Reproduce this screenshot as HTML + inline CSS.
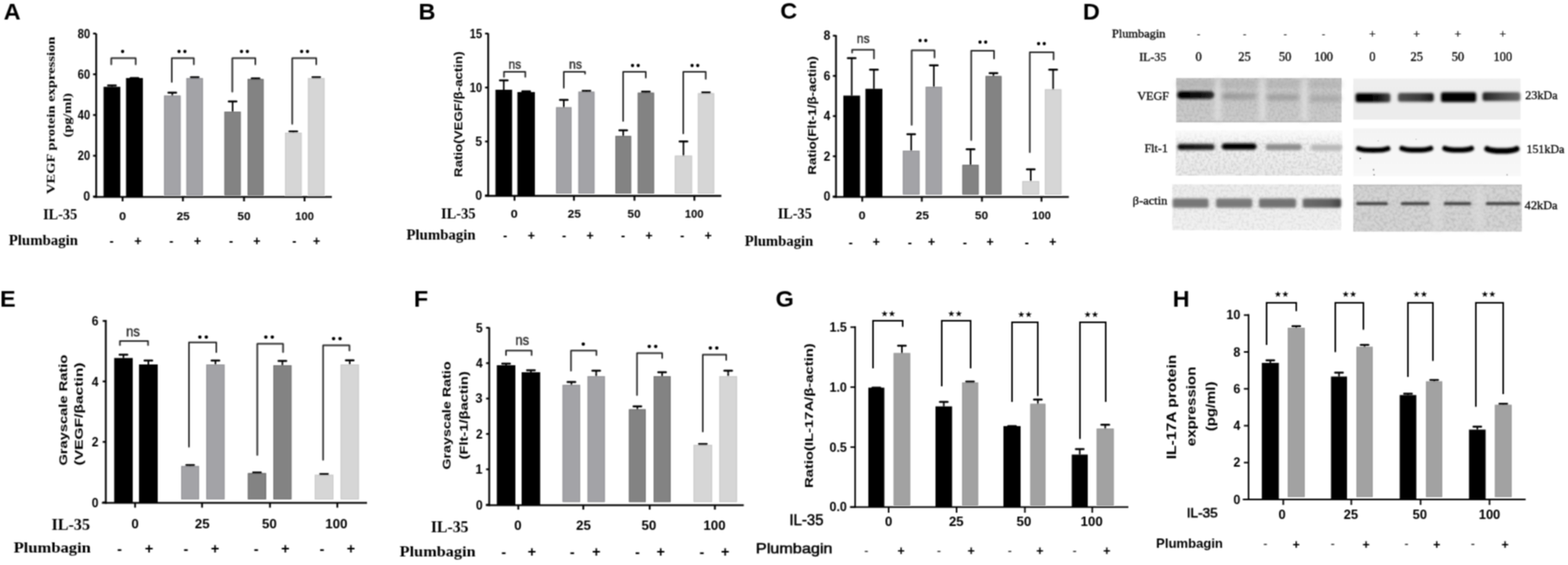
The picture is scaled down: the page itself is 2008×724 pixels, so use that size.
<!DOCTYPE html>
<html><head><meta charset="utf-8"><title>Figure</title>
<style>
html,body{margin:0;padding:0;background:#fff;}
body{width:2008px;height:724px;overflow:hidden;}
svg{display:block;}
</style></head>
<body>
<svg width="2008" height="724" viewBox="0 0 2008 724">
<defs>
<filter id="gb" x="0" y="0" width="2008" height="724" filterUnits="userSpaceOnUse"><feConvolveMatrix order="3" kernelMatrix="1 2 1 2 4 2 1 2 1" divisor="16" edgeMode="duplicate"/></filter>
<filter id="bl2" x="-20%" y="-80%" width="140%" height="260%"><feGaussianBlur stdDeviation="1.8 1.7"/></filter>
<filter id="bl1" x="-20%" y="-80%" width="140%" height="260%"><feGaussianBlur stdDeviation="1.1"/></filter>
<filter id="bl3" x="-50%" y="-50%" width="200%" height="200%"><feGaussianBlur stdDeviation="3"/></filter>
<filter id="blS" x="1700" y="150" width="300" height="100" filterUnits="userSpaceOnUse"><feGaussianBlur stdDeviation="1.1"/></filter>
<filter id="bl3s" x="-20%" y="-100%" width="140%" height="300%"><feGaussianBlur stdDeviation="2.4 2.2"/></filter>
<filter id="noise1" x="0" y="0" width="100%" height="100%">
  <feTurbulence type="fractalNoise" baseFrequency="0.3" numOctaves="2" seed="3" result="t"/>
  <feColorMatrix in="t" type="matrix" values="0 0 0 0 0  0 0 0 0 0  0 0 0 0 0  3 0 0 0 -1.2" result="n"/>
  <feComposite in="n" in2="SourceGraphic" operator="in"/>
</filter>
<filter id="noise2" x="0" y="0" width="100%" height="100%">
  <feTurbulence type="fractalNoise" baseFrequency="0.25" numOctaves="2" seed="7" result="t"/>
  <feColorMatrix in="t" type="matrix" values="0 0 0 0 0  0 0 0 0 0  0 0 0 0 0  3 0 0 0 -1.2" result="n"/>
  <feComposite in="n" in2="SourceGraphic" operator="in"/>
</filter>
<linearGradient id="vegfL" x1="0" y1="0" x2="0" y2="1">
  <stop offset="0" stop-color="#c2c2c2"/><stop offset="0.3" stop-color="#c6c6c6"/><stop offset="1" stop-color="#cbcbcb"/>
</linearGradient>
<linearGradient id="vegfR" x1="0" y1="0" x2="0" y2="1">
  <stop offset="0" stop-color="#efefef"/><stop offset="0.5" stop-color="#ebebeb"/><stop offset="1" stop-color="#ececec"/>
</linearGradient>
<linearGradient id="fltL" x1="0" y1="0" x2="0" y2="1">
  <stop offset="0" stop-color="#f8f8f8"/><stop offset="0.3" stop-color="#f0f0f0"/><stop offset="1" stop-color="#e9e9e9"/>
</linearGradient>
<linearGradient id="fltR" x1="0" y1="0" x2="0" y2="1">
  <stop offset="0" stop-color="#f3f3f3"/><stop offset="1" stop-color="#f8f8f8"/>
</linearGradient>
<linearGradient id="fadeW" x1="0" y1="0" x2="0" y2="1">
  <stop offset="0" stop-color="#fafafa" stop-opacity="0.95"/><stop offset="1" stop-color="#fafafa" stop-opacity="0"/>
</linearGradient>
<linearGradient id="actL" x1="0" y1="0" x2="0" y2="1">
  <stop offset="0" stop-color="#ececec"/><stop offset="1" stop-color="#f1f1f1"/>
</linearGradient>
<linearGradient id="g0" x1="0" y1="0" x2="1" y2="0"><stop offset="0" stop-color="#000"/><stop offset="0.55" stop-color="#0a0a0a"/><stop offset="1" stop-color="#2a2a2a"/></linearGradient>
<linearGradient id="g1" x1="0" y1="0" x2="1" y2="0"><stop offset="0" stop-color="#8a8a8a"/><stop offset="1" stop-color="#9a9a9a"/></linearGradient>
<linearGradient id="g2" x1="0" y1="0" x2="1" y2="0"><stop offset="0" stop-color="#000"/><stop offset="0.6" stop-color="#080808"/><stop offset="1" stop-color="#4a4a4a"/></linearGradient>
<linearGradient id="g3" x1="0" y1="0" x2="1" y2="0"><stop offset="0" stop-color="#505050"/><stop offset="0.6" stop-color="#3a3a3a"/><stop offset="1" stop-color="#161616"/></linearGradient>
<linearGradient id="g4" x1="0" y1="0" x2="1" y2="0"><stop offset="0" stop-color="#222"/><stop offset="0.5" stop-color="#4a4a4a"/><stop offset="1" stop-color="#6a6a6a"/></linearGradient>
<linearGradient id="g5" x1="0" y1="0" x2="1" y2="0"><stop offset="0" stop-color="#0c0c0c"/><stop offset="1" stop-color="#2a2a2a"/></linearGradient>
<linearGradient id="g6" x1="0" y1="0" x2="1" y2="0"><stop offset="0" stop-color="#6a6a6a"/><stop offset="0.7" stop-color="#606060"/><stop offset="1" stop-color="#404040"/></linearGradient></defs>
<rect width="2008" height="724" fill="#fff"/>
<g filter="url(#gb)">
<rect x="132.6" y="111.25" width="21.5" height="141.05" fill="#000"/>
<rect x="161.4" y="100" width="21.6" height="152.3" fill="#000"/>
<rect x="210" y="122.5" width="21.25" height="127.8" fill="#a3a3a7"/>
<rect x="210.5" y="123" width="20.25" height="126.8" fill="none" stroke="#919195" stroke-width="1"/>
<rect x="238.75" y="100" width="21.25" height="150.3" fill="#a3a3a7"/>
<rect x="239.25" y="100.5" width="20.25" height="149.3" fill="none" stroke="#919195" stroke-width="1"/>
<rect x="287.5" y="143" width="20.75" height="107.3" fill="#838383"/>
<rect x="288" y="143.5" width="19.75" height="106.3" fill="none" stroke="#6e6e6e" stroke-width="1"/>
<rect x="317" y="101.25" width="20.5" height="149.05" fill="#838383"/>
<rect x="317.5" y="101.75" width="19.5" height="148.05" fill="none" stroke="#6e6e6e" stroke-width="1"/>
<rect x="365" y="170" width="21.25" height="80.3" fill="#d6d6d6"/>
<rect x="365.5" y="170.5" width="20.25" height="79.3" fill="none" stroke="#c6c6c6" stroke-width="1"/>
<rect x="394.5" y="100" width="21" height="150.3" fill="#d6d6d6"/>
<rect x="395" y="100.5" width="20" height="149.3" fill="none" stroke="#c6c6c6" stroke-width="1"/>
<line x1="143.35" y1="111.25" x2="143.35" y2="109.5" stroke="#000" stroke-width="2" stroke-linecap="butt"/>
<line x1="138.35" y1="109.5" x2="148.35" y2="109.5" stroke="#000" stroke-width="2.4" stroke-linecap="round"/>
<line x1="167.2" y1="100" x2="177.2" y2="100" stroke="#000" stroke-width="2.4" stroke-linecap="round"/>
<line x1="220.62" y1="122.5" x2="220.62" y2="118.75" stroke="#000" stroke-width="2" stroke-linecap="butt"/>
<line x1="215.62" y1="118.75" x2="225.62" y2="118.75" stroke="#000" stroke-width="2.4" stroke-linecap="round"/>
<line x1="249.38" y1="100" x2="249.38" y2="99" stroke="#000" stroke-width="2" stroke-linecap="butt"/>
<line x1="244.38" y1="99" x2="254.38" y2="99" stroke="#000" stroke-width="2.4" stroke-linecap="round"/>
<line x1="297.88" y1="143" x2="297.88" y2="130" stroke="#000" stroke-width="2" stroke-linecap="butt"/>
<line x1="292.88" y1="130" x2="302.88" y2="130" stroke="#000" stroke-width="2.4" stroke-linecap="round"/>
<line x1="327.25" y1="101.25" x2="327.25" y2="100.5" stroke="#000" stroke-width="2" stroke-linecap="butt"/>
<line x1="322.25" y1="100.5" x2="332.25" y2="100.5" stroke="#000" stroke-width="2.4" stroke-linecap="round"/>
<line x1="375.62" y1="170" x2="375.62" y2="168.5" stroke="#000" stroke-width="2" stroke-linecap="butt"/>
<line x1="370.62" y1="168.5" x2="380.62" y2="168.5" stroke="#000" stroke-width="2.4" stroke-linecap="round"/>
<line x1="405" y1="100" x2="405" y2="99" stroke="#000" stroke-width="2" stroke-linecap="butt"/>
<line x1="400" y1="99" x2="410" y2="99" stroke="#000" stroke-width="2.4" stroke-linecap="round"/>
<line x1="123.2" y1="43" x2="123.2" y2="253.45" stroke="#000" stroke-width="2.3" stroke-linecap="butt"/>
<line x1="119.5" y1="252.3" x2="425" y2="252.3" stroke="#000" stroke-width="2.3" stroke-linecap="butt"/>
<line x1="119.2" y1="251.75" x2="123.2" y2="251.75" stroke="#000" stroke-width="2.3" stroke-linecap="butt"/>
<text x="115.3" y="257.35" font-family="'Liberation Sans', Arial, sans-serif" font-size="16" font-weight="bold" text-anchor="end" fill="#000" textLength="8.6" lengthAdjust="spacingAndGlyphs">0</text>
<line x1="119.2" y1="199.56" x2="123.2" y2="199.56" stroke="#000" stroke-width="2.3" stroke-linecap="butt"/>
<text x="115.3" y="205.16" font-family="'Liberation Sans', Arial, sans-serif" font-size="16" font-weight="bold" text-anchor="end" fill="#000" textLength="15.8" lengthAdjust="spacingAndGlyphs">20</text>
<line x1="119.2" y1="147.38" x2="123.2" y2="147.38" stroke="#000" stroke-width="2.3" stroke-linecap="butt"/>
<text x="115.3" y="152.97" font-family="'Liberation Sans', Arial, sans-serif" font-size="16" font-weight="bold" text-anchor="end" fill="#000" textLength="15.8" lengthAdjust="spacingAndGlyphs">40</text>
<line x1="119.2" y1="95.19" x2="123.2" y2="95.19" stroke="#000" stroke-width="2.3" stroke-linecap="butt"/>
<text x="115.3" y="100.79" font-family="'Liberation Sans', Arial, sans-serif" font-size="16" font-weight="bold" text-anchor="end" fill="#000" textLength="15.8" lengthAdjust="spacingAndGlyphs">60</text>
<line x1="119.2" y1="43" x2="123.2" y2="43" stroke="#000" stroke-width="2.3" stroke-linecap="butt"/>
<text x="115.3" y="48.6" font-family="'Liberation Sans', Arial, sans-serif" font-size="16" font-weight="bold" text-anchor="end" fill="#000" textLength="15.8" lengthAdjust="spacingAndGlyphs">80</text>
<line x1="157" y1="252.3" x2="157" y2="258" stroke="#000" stroke-width="2.3" stroke-linecap="butt"/>
<line x1="234.25" y1="252.3" x2="234.25" y2="258" stroke="#000" stroke-width="2.3" stroke-linecap="butt"/>
<line x1="312.5" y1="252.3" x2="312.5" y2="258" stroke="#000" stroke-width="2.3" stroke-linecap="butt"/>
<line x1="390" y1="252.3" x2="390" y2="258" stroke="#000" stroke-width="2.3" stroke-linecap="butt"/>
<path d="M142.5 82.5 V74.5 H173.75 V82.5" fill="none" stroke="#262626" stroke-width="2" stroke-linejoin="round" stroke-linecap="round"/>
<text x="157" y="70.78" font-family="'Liberation Sans', Arial, sans-serif" font-size="14.5" font-weight="bold" text-anchor="middle" fill="#000">•</text>
<path d="M220 105 V74.5 H248.25 V82.5" fill="none" stroke="#262626" stroke-width="2" stroke-linejoin="round" stroke-linecap="round"/>
<text x="229.2" y="70.78" font-family="'Liberation Sans', Arial, sans-serif" font-size="14.5" font-weight="bold" text-anchor="middle" fill="#000">•</text>
<text x="236.8" y="70.78" font-family="'Liberation Sans', Arial, sans-serif" font-size="14.5" font-weight="bold" text-anchor="middle" fill="#000">•</text>
<path d="M297.5 117.5 V74.5 H327 V82.5" fill="none" stroke="#262626" stroke-width="2" stroke-linejoin="round" stroke-linecap="round"/>
<text x="309.2" y="70.78" font-family="'Liberation Sans', Arial, sans-serif" font-size="14.5" font-weight="bold" text-anchor="middle" fill="#000">•</text>
<text x="316.8" y="70.78" font-family="'Liberation Sans', Arial, sans-serif" font-size="14.5" font-weight="bold" text-anchor="middle" fill="#000">•</text>
<path d="M374.25 158.75 V74.5 H405 V82.5" fill="none" stroke="#262626" stroke-width="2" stroke-linejoin="round" stroke-linecap="round"/>
<text x="386.2" y="70.78" font-family="'Liberation Sans', Arial, sans-serif" font-size="14.5" font-weight="bold" text-anchor="middle" fill="#000">•</text>
<text x="393.8" y="70.78" font-family="'Liberation Sans', Arial, sans-serif" font-size="14.5" font-weight="bold" text-anchor="middle" fill="#000">•</text>
<text x="157" y="281.8" font-family="'Liberation Sans', Arial, sans-serif" font-size="15.5" font-weight="bold" text-anchor="middle" fill="#000" textLength="9" lengthAdjust="spacingAndGlyphs">0</text>
<text x="234.6" y="281.8" font-family="'Liberation Sans', Arial, sans-serif" font-size="15.5" font-weight="bold" text-anchor="middle" fill="#000" textLength="16.8" lengthAdjust="spacingAndGlyphs">25</text>
<text x="312.5" y="281.8" font-family="'Liberation Sans', Arial, sans-serif" font-size="15.5" font-weight="bold" text-anchor="middle" fill="#000" textLength="16.8" lengthAdjust="spacingAndGlyphs">50</text>
<text x="390" y="281.8" font-family="'Liberation Sans', Arial, sans-serif" font-size="15.5" font-weight="bold" text-anchor="middle" fill="#000" textLength="24" lengthAdjust="spacingAndGlyphs">100</text>
<text x="55.2" y="281.2" font-family="'Liberation Serif', 'Times New Roman', serif" font-size="19" font-weight="bold" text-anchor="start" fill="#000" textLength="43.6" lengthAdjust="spacingAndGlyphs">IL-35</text>
<text x="11.25" y="313.8" font-family="'Liberation Serif', 'Times New Roman', serif" font-size="18.5" font-weight="bold" text-anchor="start" fill="#000" textLength="88.6" lengthAdjust="spacingAndGlyphs">Plumbagin</text>
<text x="143" y="314.2" font-family="'Liberation Sans', Arial, sans-serif" font-size="16" font-weight="bold" text-anchor="middle" fill="#000">-</text>
<text x="176.75" y="313.5" font-family="'Liberation Sans', Arial, sans-serif" font-size="16" font-weight="bold" text-anchor="middle" fill="#000">+</text>
<text x="219.5" y="314.2" font-family="'Liberation Sans', Arial, sans-serif" font-size="16" font-weight="bold" text-anchor="middle" fill="#000">-</text>
<text x="253" y="313.5" font-family="'Liberation Sans', Arial, sans-serif" font-size="16" font-weight="bold" text-anchor="middle" fill="#000">+</text>
<text x="296" y="314.2" font-family="'Liberation Sans', Arial, sans-serif" font-size="16" font-weight="bold" text-anchor="middle" fill="#000">-</text>
<text x="329" y="313.5" font-family="'Liberation Sans', Arial, sans-serif" font-size="16" font-weight="bold" text-anchor="middle" fill="#000">+</text>
<text x="377" y="314.2" font-family="'Liberation Sans', Arial, sans-serif" font-size="16" font-weight="bold" text-anchor="middle" fill="#000">-</text>
<text x="405.5" y="313.5" font-family="'Liberation Sans', Arial, sans-serif" font-size="16" font-weight="bold" text-anchor="middle" fill="#000">+</text>
<text transform="translate(69.8 147.8) rotate(-90)" x="0" y="0" font-family="'Liberation Serif', 'Times New Roman', serif" font-size="15.5" font-weight="bold" text-anchor="middle" textLength="202" lengthAdjust="spacingAndGlyphs">VEGF protein expression</text>
<text transform="translate(90.8 147.6) rotate(-90)" x="0" y="0" font-family="'Liberation Serif', 'Times New Roman', serif" font-size="15.5" font-weight="bold" text-anchor="middle" textLength="57" lengthAdjust="spacingAndGlyphs">(pg/ml)</text>
<text x="4.8" y="24.6" font-family="'Liberation Sans', Arial, sans-serif" font-size="30" font-weight="bold" text-anchor="start" fill="#000">A</text>
<rect x="634.5" y="115" width="21.3" height="136" fill="#000"/>
<rect x="662.6" y="118" width="22.4" height="133" fill="#000"/>
<rect x="712" y="137.5" width="20" height="110.5" fill="#a3a3a7"/>
<rect x="712.5" y="138" width="19" height="109.5" fill="none" stroke="#919195" stroke-width="1"/>
<rect x="740.75" y="117.5" width="20.5" height="130.5" fill="#a3a3a7"/>
<rect x="741.25" y="118" width="19.5" height="129.5" fill="none" stroke="#919195" stroke-width="1"/>
<rect x="788" y="174.25" width="20.25" height="73.75" fill="#838383"/>
<rect x="788.5" y="174.75" width="19.25" height="72.75" fill="none" stroke="#6e6e6e" stroke-width="1"/>
<rect x="816.75" y="118.75" width="20.75" height="129.25" fill="#838383"/>
<rect x="817.25" y="119.25" width="19.75" height="128.25" fill="none" stroke="#6e6e6e" stroke-width="1"/>
<rect x="864.25" y="199.5" width="22" height="48.5" fill="#d6d6d6"/>
<rect x="864.75" y="200" width="21" height="47.5" fill="none" stroke="#c6c6c6" stroke-width="1"/>
<rect x="893.75" y="119.5" width="20.75" height="128.5" fill="#d6d6d6"/>
<rect x="894.25" y="120" width="19.75" height="127.5" fill="none" stroke="#c6c6c6" stroke-width="1"/>
<line x1="645.15" y1="115" x2="645.15" y2="103" stroke="#000" stroke-width="2" stroke-linecap="butt"/>
<line x1="640.15" y1="103" x2="650.15" y2="103" stroke="#000" stroke-width="2.4" stroke-linecap="round"/>
<line x1="673.8" y1="118" x2="673.8" y2="117" stroke="#000" stroke-width="2" stroke-linecap="butt"/>
<line x1="668.8" y1="117" x2="678.8" y2="117" stroke="#000" stroke-width="2.4" stroke-linecap="round"/>
<line x1="722" y1="137.5" x2="722" y2="128" stroke="#000" stroke-width="2" stroke-linecap="butt"/>
<line x1="717" y1="128" x2="727" y2="128" stroke="#000" stroke-width="2.4" stroke-linecap="round"/>
<line x1="751" y1="117.5" x2="751" y2="116.5" stroke="#000" stroke-width="2" stroke-linecap="butt"/>
<line x1="746" y1="116.5" x2="756" y2="116.5" stroke="#000" stroke-width="2.4" stroke-linecap="round"/>
<line x1="798.12" y1="174.25" x2="798.12" y2="167" stroke="#000" stroke-width="2" stroke-linecap="butt"/>
<line x1="793.12" y1="167" x2="803.12" y2="167" stroke="#000" stroke-width="2.4" stroke-linecap="round"/>
<line x1="827.12" y1="118.75" x2="827.12" y2="117.5" stroke="#000" stroke-width="2" stroke-linecap="butt"/>
<line x1="822.12" y1="117.5" x2="832.12" y2="117.5" stroke="#000" stroke-width="2.4" stroke-linecap="round"/>
<line x1="875.25" y1="199.5" x2="875.25" y2="181.25" stroke="#000" stroke-width="2" stroke-linecap="butt"/>
<line x1="870.25" y1="181.25" x2="880.25" y2="181.25" stroke="#000" stroke-width="2.4" stroke-linecap="round"/>
<line x1="904.12" y1="119.5" x2="904.12" y2="118.5" stroke="#000" stroke-width="2" stroke-linecap="butt"/>
<line x1="899.12" y1="118.5" x2="909.12" y2="118.5" stroke="#000" stroke-width="2.4" stroke-linecap="round"/>
<line x1="625.2" y1="42.5" x2="625.2" y2="252.15" stroke="#000" stroke-width="2.3" stroke-linecap="butt"/>
<line x1="621" y1="251" x2="923.75" y2="251" stroke="#000" stroke-width="2.3" stroke-linecap="butt"/>
<line x1="621.2" y1="250.5" x2="625.2" y2="250.5" stroke="#000" stroke-width="2.3" stroke-linecap="butt"/>
<text x="617.3" y="256.1" font-family="'Liberation Sans', Arial, sans-serif" font-size="16" font-weight="bold" text-anchor="end" fill="#000" textLength="8.6" lengthAdjust="spacingAndGlyphs">0</text>
<line x1="621.2" y1="181.33" x2="625.2" y2="181.33" stroke="#000" stroke-width="2.3" stroke-linecap="butt"/>
<text x="617.3" y="186.93" font-family="'Liberation Sans', Arial, sans-serif" font-size="16" font-weight="bold" text-anchor="end" fill="#000" textLength="8.6" lengthAdjust="spacingAndGlyphs">5</text>
<line x1="621.2" y1="112.17" x2="625.2" y2="112.17" stroke="#000" stroke-width="2.3" stroke-linecap="butt"/>
<text x="617.3" y="117.77" font-family="'Liberation Sans', Arial, sans-serif" font-size="16" font-weight="bold" text-anchor="end" fill="#000" textLength="15.8" lengthAdjust="spacingAndGlyphs">10</text>
<line x1="621.2" y1="43" x2="625.2" y2="43" stroke="#000" stroke-width="2.3" stroke-linecap="butt"/>
<text x="617.3" y="48.6" font-family="'Liberation Sans', Arial, sans-serif" font-size="16" font-weight="bold" text-anchor="end" fill="#000" textLength="15.8" lengthAdjust="spacingAndGlyphs">15</text>
<line x1="658.9" y1="251" x2="658.9" y2="257.2" stroke="#000" stroke-width="2.3" stroke-linecap="butt"/>
<line x1="735" y1="251" x2="735" y2="257.2" stroke="#000" stroke-width="2.3" stroke-linecap="butt"/>
<line x1="812.5" y1="251" x2="812.5" y2="257.2" stroke="#000" stroke-width="2.3" stroke-linecap="butt"/>
<line x1="889.25" y1="251" x2="889.25" y2="257.2" stroke="#000" stroke-width="2.3" stroke-linecap="butt"/>
<path d="M645.4 98.5 V92 H672.7 V98.5" fill="none" stroke="#262626" stroke-width="2" stroke-linejoin="round" stroke-linecap="round"/>
<text x="659.3" y="87.7" font-family="'Liberation Sans', Arial, sans-serif" font-size="16" font-weight="normal" text-anchor="middle" fill="#1a1a1a" textLength="16.3" lengthAdjust="spacingAndGlyphs" stroke="#1a1a1a" stroke-width="0.35">ns</text>
<path d="M722 112.5 V92 H749.25 V94.5" fill="none" stroke="#262626" stroke-width="2" stroke-linejoin="round" stroke-linecap="round"/>
<text x="737" y="87.95" font-family="'Liberation Sans', Arial, sans-serif" font-size="16" font-weight="normal" text-anchor="middle" fill="#1a1a1a" textLength="16.3" lengthAdjust="spacingAndGlyphs" stroke="#1a1a1a" stroke-width="0.35">ns</text>
<path d="M798 155 V92 H827 V99.5" fill="none" stroke="#262626" stroke-width="2" stroke-linejoin="round" stroke-linecap="round"/>
<text x="810.15" y="88.53" font-family="'Liberation Sans', Arial, sans-serif" font-size="14.5" font-weight="bold" text-anchor="middle" fill="#000">•</text>
<text x="817.35" y="88.53" font-family="'Liberation Sans', Arial, sans-serif" font-size="14.5" font-weight="bold" text-anchor="middle" fill="#000">•</text>
<path d="M875 171 V92 H903.75 V101" fill="none" stroke="#262626" stroke-width="2" stroke-linejoin="round" stroke-linecap="round"/>
<text x="886.4" y="88.53" font-family="'Liberation Sans', Arial, sans-serif" font-size="14.5" font-weight="bold" text-anchor="middle" fill="#000">•</text>
<text x="893.6" y="88.53" font-family="'Liberation Sans', Arial, sans-serif" font-size="14.5" font-weight="bold" text-anchor="middle" fill="#000">•</text>
<text x="658.5" y="278.5" font-family="'Liberation Sans', Arial, sans-serif" font-size="15.5" font-weight="bold" text-anchor="middle" fill="#000" textLength="9" lengthAdjust="spacingAndGlyphs">0</text>
<text x="735.4" y="278.5" font-family="'Liberation Sans', Arial, sans-serif" font-size="15.5" font-weight="bold" text-anchor="middle" fill="#000" textLength="16.8" lengthAdjust="spacingAndGlyphs">25</text>
<text x="812" y="278.5" font-family="'Liberation Sans', Arial, sans-serif" font-size="15.5" font-weight="bold" text-anchor="middle" fill="#000" textLength="16.8" lengthAdjust="spacingAndGlyphs">50</text>
<text x="889" y="278.5" font-family="'Liberation Sans', Arial, sans-serif" font-size="15.5" font-weight="bold" text-anchor="middle" fill="#000" textLength="24" lengthAdjust="spacingAndGlyphs">100</text>
<text x="564.8" y="280" font-family="'Liberation Serif', 'Times New Roman', serif" font-size="19" font-weight="bold" text-anchor="start" fill="#000" textLength="44.2" lengthAdjust="spacingAndGlyphs">IL-35</text>
<text x="520.5" y="306.6" font-family="'Liberation Serif', 'Times New Roman', serif" font-size="18.5" font-weight="bold" text-anchor="start" fill="#000" textLength="88.5" lengthAdjust="spacingAndGlyphs">Plumbagin</text>
<text x="647" y="307.2" font-family="'Liberation Sans', Arial, sans-serif" font-size="16" font-weight="bold" text-anchor="middle" fill="#000">-</text>
<text x="680.3" y="307" font-family="'Liberation Sans', Arial, sans-serif" font-size="16" font-weight="bold" text-anchor="middle" fill="#000">+</text>
<text x="722.3" y="307.2" font-family="'Liberation Sans', Arial, sans-serif" font-size="16" font-weight="bold" text-anchor="middle" fill="#000">-</text>
<text x="755.75" y="307" font-family="'Liberation Sans', Arial, sans-serif" font-size="16" font-weight="bold" text-anchor="middle" fill="#000">+</text>
<text x="798" y="307.2" font-family="'Liberation Sans', Arial, sans-serif" font-size="16" font-weight="bold" text-anchor="middle" fill="#000">-</text>
<text x="831.25" y="307" font-family="'Liberation Sans', Arial, sans-serif" font-size="16" font-weight="bold" text-anchor="middle" fill="#000">+</text>
<text x="873.75" y="307.2" font-family="'Liberation Sans', Arial, sans-serif" font-size="16" font-weight="bold" text-anchor="middle" fill="#000">-</text>
<text x="907" y="307" font-family="'Liberation Sans', Arial, sans-serif" font-size="16" font-weight="bold" text-anchor="middle" fill="#000">+</text>
<text transform="translate(591.9 146.4) rotate(-90)" x="0" y="0" font-family="'Liberation Sans', Arial, sans-serif" font-size="14.5" font-weight="bold" text-anchor="middle" textLength="161" lengthAdjust="spacingAndGlyphs">Ratio(VEGF/β-actin)</text>
<text x="536" y="24.6" font-family="'Liberation Sans', Arial, sans-serif" font-size="30" font-weight="bold" text-anchor="start" fill="#000">B</text>
<rect x="1080" y="122.5" width="21.4" height="129.8" fill="#000"/>
<rect x="1108.3" y="113.75" width="21.7" height="138.55" fill="#000"/>
<rect x="1156.25" y="193" width="21.25" height="56.3" fill="#a3a3a7"/>
<rect x="1156.75" y="193.5" width="20.25" height="55.3" fill="none" stroke="#919195" stroke-width="1"/>
<rect x="1185.5" y="111.25" width="20.75" height="138.05" fill="#a3a3a7"/>
<rect x="1186" y="111.75" width="19.75" height="137.05" fill="none" stroke="#919195" stroke-width="1"/>
<rect x="1232.5" y="211.25" width="20.75" height="38.05" fill="#838383"/>
<rect x="1233" y="211.75" width="19.75" height="37.05" fill="none" stroke="#6e6e6e" stroke-width="1"/>
<rect x="1262" y="97.5" width="20.5" height="151.8" fill="#838383"/>
<rect x="1262.5" y="98" width="19.5" height="150.8" fill="none" stroke="#6e6e6e" stroke-width="1"/>
<rect x="1309.25" y="232" width="21.5" height="17.3" fill="#d6d6d6"/>
<rect x="1309.75" y="232.5" width="20.5" height="16.3" fill="none" stroke="#c6c6c6" stroke-width="1"/>
<rect x="1338" y="114.5" width="21.25" height="134.8" fill="#d6d6d6"/>
<rect x="1338.5" y="115" width="20.25" height="133.8" fill="none" stroke="#c6c6c6" stroke-width="1"/>
<line x1="1090.7" y1="122.5" x2="1090.7" y2="74.5" stroke="#000" stroke-width="2" stroke-linecap="butt"/>
<line x1="1085.7" y1="74.5" x2="1095.7" y2="74.5" stroke="#000" stroke-width="2.4" stroke-linecap="round"/>
<line x1="1119.15" y1="113.75" x2="1119.15" y2="89.25" stroke="#000" stroke-width="2" stroke-linecap="butt"/>
<line x1="1114.15" y1="89.25" x2="1124.15" y2="89.25" stroke="#000" stroke-width="2.4" stroke-linecap="round"/>
<line x1="1166.88" y1="193" x2="1166.88" y2="172" stroke="#000" stroke-width="2" stroke-linecap="butt"/>
<line x1="1161.88" y1="172" x2="1171.88" y2="172" stroke="#000" stroke-width="2.4" stroke-linecap="round"/>
<line x1="1195.88" y1="111.25" x2="1195.88" y2="83.75" stroke="#000" stroke-width="2" stroke-linecap="butt"/>
<line x1="1190.88" y1="83.75" x2="1200.88" y2="83.75" stroke="#000" stroke-width="2.4" stroke-linecap="round"/>
<line x1="1242.88" y1="211.25" x2="1242.88" y2="191.25" stroke="#000" stroke-width="2" stroke-linecap="butt"/>
<line x1="1237.88" y1="191.25" x2="1247.88" y2="191.25" stroke="#000" stroke-width="2.4" stroke-linecap="round"/>
<line x1="1272.25" y1="97.5" x2="1272.25" y2="93.75" stroke="#000" stroke-width="2" stroke-linecap="butt"/>
<line x1="1267.25" y1="93.75" x2="1277.25" y2="93.75" stroke="#000" stroke-width="2.4" stroke-linecap="round"/>
<line x1="1320" y1="232" x2="1320" y2="217" stroke="#000" stroke-width="2" stroke-linecap="butt"/>
<line x1="1315" y1="217" x2="1325" y2="217" stroke="#000" stroke-width="2.4" stroke-linecap="round"/>
<line x1="1348.62" y1="114.5" x2="1348.62" y2="89.25" stroke="#000" stroke-width="2" stroke-linecap="butt"/>
<line x1="1343.62" y1="89.25" x2="1353.62" y2="89.25" stroke="#000" stroke-width="2.4" stroke-linecap="round"/>
<line x1="1070.6" y1="45" x2="1070.6" y2="253.45" stroke="#000" stroke-width="2.3" stroke-linecap="butt"/>
<line x1="1066.5" y1="252.3" x2="1368.75" y2="252.3" stroke="#000" stroke-width="2.3" stroke-linecap="butt"/>
<line x1="1066.6" y1="251.75" x2="1070.6" y2="251.75" stroke="#000" stroke-width="2.3" stroke-linecap="butt"/>
<text x="1063.3" y="257.35" font-family="'Liberation Sans', Arial, sans-serif" font-size="16" font-weight="bold" text-anchor="end" fill="#000" textLength="8.6" lengthAdjust="spacingAndGlyphs">0</text>
<line x1="1066.6" y1="200.25" x2="1070.6" y2="200.25" stroke="#000" stroke-width="2.3" stroke-linecap="butt"/>
<text x="1063.3" y="205.85" font-family="'Liberation Sans', Arial, sans-serif" font-size="16" font-weight="bold" text-anchor="end" fill="#000" textLength="8.6" lengthAdjust="spacingAndGlyphs">2</text>
<line x1="1066.6" y1="148.75" x2="1070.6" y2="148.75" stroke="#000" stroke-width="2.3" stroke-linecap="butt"/>
<text x="1063.3" y="154.35" font-family="'Liberation Sans', Arial, sans-serif" font-size="16" font-weight="bold" text-anchor="end" fill="#000" textLength="8.6" lengthAdjust="spacingAndGlyphs">4</text>
<line x1="1066.6" y1="97.25" x2="1070.6" y2="97.25" stroke="#000" stroke-width="2.3" stroke-linecap="butt"/>
<text x="1063.3" y="102.85" font-family="'Liberation Sans', Arial, sans-serif" font-size="16" font-weight="bold" text-anchor="end" fill="#000" textLength="8.6" lengthAdjust="spacingAndGlyphs">6</text>
<line x1="1066.6" y1="45.75" x2="1070.6" y2="45.75" stroke="#000" stroke-width="2.3" stroke-linecap="butt"/>
<text x="1063.3" y="51.35" font-family="'Liberation Sans', Arial, sans-serif" font-size="16" font-weight="bold" text-anchor="end" fill="#000" textLength="8.6" lengthAdjust="spacingAndGlyphs">8</text>
<line x1="1104.2" y1="252.3" x2="1104.2" y2="258.4" stroke="#000" stroke-width="2.3" stroke-linecap="butt"/>
<line x1="1180.5" y1="252.3" x2="1180.5" y2="258.4" stroke="#000" stroke-width="2.3" stroke-linecap="butt"/>
<line x1="1257.5" y1="252.3" x2="1257.5" y2="258.4" stroke="#000" stroke-width="2.3" stroke-linecap="butt"/>
<line x1="1333.75" y1="252.3" x2="1333.75" y2="258.4" stroke="#000" stroke-width="2.3" stroke-linecap="butt"/>
<path d="M1091.25 67.5 V63.75 H1119.25 V75" fill="none" stroke="#262626" stroke-width="2" stroke-linejoin="round" stroke-linecap="round"/>
<text x="1105.5" y="55.45" font-family="'Liberation Sans', Arial, sans-serif" font-size="16" font-weight="normal" text-anchor="middle" fill="#1a1a1a" textLength="16.3" lengthAdjust="spacingAndGlyphs" stroke="#1a1a1a" stroke-width="0.35">ns</text>
<path d="M1167.5 160 V64.5 H1196.75 V73.75" fill="none" stroke="#262626" stroke-width="2" stroke-linejoin="round" stroke-linecap="round"/>
<text x="1178.4" y="57.28" font-family="'Liberation Sans', Arial, sans-serif" font-size="14.5" font-weight="bold" text-anchor="middle" fill="#000">•</text>
<text x="1185.6" y="57.28" font-family="'Liberation Sans', Arial, sans-serif" font-size="14.5" font-weight="bold" text-anchor="middle" fill="#000">•</text>
<path d="M1243.75 179.5 V65 H1273 V75" fill="none" stroke="#262626" stroke-width="2" stroke-linejoin="round" stroke-linecap="round"/>
<text x="1255.15" y="59.28" font-family="'Liberation Sans', Arial, sans-serif" font-size="14.5" font-weight="bold" text-anchor="middle" fill="#000">•</text>
<text x="1262.35" y="59.28" font-family="'Liberation Sans', Arial, sans-serif" font-size="14.5" font-weight="bold" text-anchor="middle" fill="#000">•</text>
<path d="M1318.75 195 V67 H1349.25 V76.25" fill="none" stroke="#262626" stroke-width="2" stroke-linejoin="round" stroke-linecap="round"/>
<text x="1330.15" y="61.03" font-family="'Liberation Sans', Arial, sans-serif" font-size="14.5" font-weight="bold" text-anchor="middle" fill="#000">•</text>
<text x="1337.35" y="61.03" font-family="'Liberation Sans', Arial, sans-serif" font-size="14.5" font-weight="bold" text-anchor="middle" fill="#000">•</text>
<text x="1104" y="281" font-family="'Liberation Sans', Arial, sans-serif" font-size="15.5" font-weight="bold" text-anchor="middle" fill="#000" textLength="9" lengthAdjust="spacingAndGlyphs">0</text>
<text x="1181.25" y="281" font-family="'Liberation Sans', Arial, sans-serif" font-size="15.5" font-weight="bold" text-anchor="middle" fill="#000" textLength="16.8" lengthAdjust="spacingAndGlyphs">25</text>
<text x="1257" y="281" font-family="'Liberation Sans', Arial, sans-serif" font-size="15.5" font-weight="bold" text-anchor="middle" fill="#000" textLength="16.8" lengthAdjust="spacingAndGlyphs">50</text>
<text x="1333.75" y="281" font-family="'Liberation Sans', Arial, sans-serif" font-size="15.5" font-weight="bold" text-anchor="middle" fill="#000" textLength="24" lengthAdjust="spacingAndGlyphs">100</text>
<text x="996" y="279.7" font-family="'Liberation Serif', 'Times New Roman', serif" font-size="19" font-weight="bold" text-anchor="start" fill="#000" textLength="43.6" lengthAdjust="spacingAndGlyphs">IL-35</text>
<text x="953.7" y="314.8" font-family="'Liberation Serif', 'Times New Roman', serif" font-size="18.5" font-weight="bold" text-anchor="start" fill="#000" textLength="87.8" lengthAdjust="spacingAndGlyphs">Plumbagin</text>
<text x="1089.5" y="316" font-family="'Liberation Sans', Arial, sans-serif" font-size="16" font-weight="bold" text-anchor="middle" fill="#000">-</text>
<text x="1122.2" y="315.3" font-family="'Liberation Sans', Arial, sans-serif" font-size="16" font-weight="bold" text-anchor="middle" fill="#000">+</text>
<text x="1165.2" y="316" font-family="'Liberation Sans', Arial, sans-serif" font-size="16" font-weight="bold" text-anchor="middle" fill="#000">-</text>
<text x="1193" y="315.3" font-family="'Liberation Sans', Arial, sans-serif" font-size="16" font-weight="bold" text-anchor="middle" fill="#000">+</text>
<text x="1235.75" y="316" font-family="'Liberation Sans', Arial, sans-serif" font-size="16" font-weight="bold" text-anchor="middle" fill="#000">-</text>
<text x="1268" y="315.3" font-family="'Liberation Sans', Arial, sans-serif" font-size="16" font-weight="bold" text-anchor="middle" fill="#000">+</text>
<text x="1315" y="316" font-family="'Liberation Sans', Arial, sans-serif" font-size="16" font-weight="bold" text-anchor="middle" fill="#000">-</text>
<text x="1348.25" y="315.3" font-family="'Liberation Sans', Arial, sans-serif" font-size="16" font-weight="bold" text-anchor="middle" fill="#000">+</text>
<text transform="translate(1045 147.9) rotate(-90)" x="0" y="0" font-family="'Liberation Sans', Arial, sans-serif" font-size="14.5" font-weight="bold" text-anchor="middle" textLength="152" lengthAdjust="spacingAndGlyphs">Ratio(Flt-1/β-actin)</text>
<text x="999.3" y="24.4" font-family="'Liberation Sans', Arial, sans-serif" font-size="30" font-weight="bold" text-anchor="start" fill="#000">C</text>
<rect x="146.25" y="458.75" width="23.75" height="185.65" fill="#000"/>
<rect x="178" y="467" width="24" height="177.4" fill="#000"/>
<rect x="232" y="597.25" width="23" height="42.65" fill="#a3a3a7"/>
<rect x="232.5" y="597.75" width="22" height="41.65" fill="none" stroke="#919195" stroke-width="1"/>
<rect x="264.25" y="467" width="23.25" height="172.9" fill="#a3a3a7"/>
<rect x="264.75" y="467.5" width="22.25" height="171.9" fill="none" stroke="#919195" stroke-width="1"/>
<rect x="317.5" y="606.25" width="23.25" height="33.65" fill="#838383"/>
<rect x="318" y="606.75" width="22.25" height="32.65" fill="none" stroke="#6e6e6e" stroke-width="1"/>
<rect x="350" y="468" width="23.25" height="171.9" fill="#838383"/>
<rect x="350.5" y="468.5" width="22.25" height="170.9" fill="none" stroke="#6e6e6e" stroke-width="1"/>
<rect x="403" y="608.5" width="24" height="31.4" fill="#d6d6d6"/>
<rect x="403.5" y="609" width="23" height="30.4" fill="none" stroke="#c6c6c6" stroke-width="1"/>
<rect x="436.25" y="467" width="23.25" height="172.9" fill="#d6d6d6"/>
<rect x="436.75" y="467.5" width="22.25" height="171.9" fill="none" stroke="#c6c6c6" stroke-width="1"/>
<line x1="158.12" y1="458.75" x2="158.12" y2="454.5" stroke="#000" stroke-width="2" stroke-linecap="butt"/>
<line x1="153.12" y1="454.5" x2="163.12" y2="454.5" stroke="#000" stroke-width="2.4" stroke-linecap="round"/>
<line x1="190" y1="467" x2="190" y2="462" stroke="#000" stroke-width="2" stroke-linecap="butt"/>
<line x1="185" y1="462" x2="195" y2="462" stroke="#000" stroke-width="2.4" stroke-linecap="round"/>
<line x1="243.5" y1="597.25" x2="243.5" y2="596" stroke="#000" stroke-width="2" stroke-linecap="butt"/>
<line x1="238.5" y1="596" x2="248.5" y2="596" stroke="#000" stroke-width="2.4" stroke-linecap="round"/>
<line x1="275.88" y1="467" x2="275.88" y2="462" stroke="#000" stroke-width="2" stroke-linecap="butt"/>
<line x1="270.88" y1="462" x2="280.88" y2="462" stroke="#000" stroke-width="2.4" stroke-linecap="round"/>
<line x1="329.12" y1="606.25" x2="329.12" y2="605.5" stroke="#000" stroke-width="2" stroke-linecap="butt"/>
<line x1="324.12" y1="605.5" x2="334.12" y2="605.5" stroke="#000" stroke-width="2.4" stroke-linecap="round"/>
<line x1="361.62" y1="468" x2="361.62" y2="462.5" stroke="#000" stroke-width="2" stroke-linecap="butt"/>
<line x1="356.62" y1="462.5" x2="366.62" y2="462.5" stroke="#000" stroke-width="2.4" stroke-linecap="round"/>
<line x1="415" y1="608.5" x2="415" y2="607.5" stroke="#000" stroke-width="2" stroke-linecap="butt"/>
<line x1="410" y1="607.5" x2="420" y2="607.5" stroke="#000" stroke-width="2.4" stroke-linecap="round"/>
<line x1="447.88" y1="467" x2="447.88" y2="461.75" stroke="#000" stroke-width="2" stroke-linecap="butt"/>
<line x1="442.88" y1="461.75" x2="452.88" y2="461.75" stroke="#000" stroke-width="2.4" stroke-linecap="round"/>
<line x1="135.5" y1="410" x2="135.5" y2="645.55" stroke="#000" stroke-width="2.3" stroke-linecap="butt"/>
<line x1="130.5" y1="644.4" x2="470" y2="644.4" stroke="#000" stroke-width="2.3" stroke-linecap="butt"/>
<line x1="131.5" y1="643.75" x2="135.5" y2="643.75" stroke="#000" stroke-width="2.3" stroke-linecap="butt"/>
<text x="126" y="649.5" font-family="'Liberation Sans', Arial, sans-serif" font-size="16.5" font-weight="bold" text-anchor="end" fill="#000" textLength="8.6" lengthAdjust="spacingAndGlyphs">0</text>
<line x1="131.5" y1="566.25" x2="135.5" y2="566.25" stroke="#000" stroke-width="2.3" stroke-linecap="butt"/>
<text x="126" y="572" font-family="'Liberation Sans', Arial, sans-serif" font-size="16.5" font-weight="bold" text-anchor="end" fill="#000" textLength="8.6" lengthAdjust="spacingAndGlyphs">2</text>
<line x1="131.5" y1="488.75" x2="135.5" y2="488.75" stroke="#000" stroke-width="2.3" stroke-linecap="butt"/>
<text x="126" y="494.5" font-family="'Liberation Sans', Arial, sans-serif" font-size="16.5" font-weight="bold" text-anchor="end" fill="#000" textLength="8.6" lengthAdjust="spacingAndGlyphs">4</text>
<line x1="131.5" y1="411.25" x2="135.5" y2="411.25" stroke="#000" stroke-width="2.3" stroke-linecap="butt"/>
<text x="126" y="417" font-family="'Liberation Sans', Arial, sans-serif" font-size="16.5" font-weight="bold" text-anchor="end" fill="#000" textLength="8.6" lengthAdjust="spacingAndGlyphs">6</text>
<line x1="173" y1="644.4" x2="173" y2="650.5" stroke="#000" stroke-width="2.3" stroke-linecap="butt"/>
<line x1="258.75" y1="644.4" x2="258.75" y2="650.5" stroke="#000" stroke-width="2.3" stroke-linecap="butt"/>
<line x1="345.75" y1="644.4" x2="345.75" y2="650.5" stroke="#000" stroke-width="2.3" stroke-linecap="butt"/>
<line x1="432" y1="644.4" x2="432" y2="650.5" stroke="#000" stroke-width="2.3" stroke-linecap="butt"/>
<path d="M153.6 442.2 V437.1 H189.6 V442.2" fill="none" stroke="#262626" stroke-width="2" stroke-linejoin="round" stroke-linecap="round"/>
<text x="170.4" y="431.2" font-family="'Liberation Sans', Arial, sans-serif" font-size="19" font-weight="normal" text-anchor="middle" fill="#1a1a1a" textLength="17.6" lengthAdjust="spacingAndGlyphs" stroke="#1a1a1a" stroke-width="0.35">ns</text>
<path d="M242 572.5 V438.75 H277 V451.25" fill="none" stroke="#262626" stroke-width="2" stroke-linejoin="round" stroke-linecap="round"/>
<text x="255.85" y="436.87" font-family="'Liberation Sans', Arial, sans-serif" font-size="15.5" font-weight="bold" text-anchor="middle" fill="#000">•</text>
<text x="264.15" y="436.87" font-family="'Liberation Sans', Arial, sans-serif" font-size="15.5" font-weight="bold" text-anchor="middle" fill="#000">•</text>
<path d="M329.5 583 V440.5 H362.5 V451.25" fill="none" stroke="#262626" stroke-width="2" stroke-linejoin="round" stroke-linecap="round"/>
<text x="340.35" y="437.12" font-family="'Liberation Sans', Arial, sans-serif" font-size="15.5" font-weight="bold" text-anchor="middle" fill="#000">•</text>
<text x="348.65" y="437.12" font-family="'Liberation Sans', Arial, sans-serif" font-size="15.5" font-weight="bold" text-anchor="middle" fill="#000">•</text>
<path d="M413.75 589.25 V442.5 H447.5 V449.25" fill="none" stroke="#262626" stroke-width="2" stroke-linejoin="round" stroke-linecap="round"/>
<text x="427.1" y="438.87" font-family="'Liberation Sans', Arial, sans-serif" font-size="15.5" font-weight="bold" text-anchor="middle" fill="#000">•</text>
<text x="435.4" y="438.87" font-family="'Liberation Sans', Arial, sans-serif" font-size="15.5" font-weight="bold" text-anchor="middle" fill="#000">•</text>
<text x="173.1" y="676.5" font-family="'Liberation Sans', Arial, sans-serif" font-size="17" font-weight="bold" text-anchor="middle" fill="#000">0</text>
<text x="258.9" y="676.5" font-family="'Liberation Sans', Arial, sans-serif" font-size="17" font-weight="bold" text-anchor="middle" fill="#000">25</text>
<text x="345" y="676.5" font-family="'Liberation Sans', Arial, sans-serif" font-size="17" font-weight="bold" text-anchor="middle" fill="#000">50</text>
<text x="430.8" y="676.5" font-family="'Liberation Sans', Arial, sans-serif" font-size="17" font-weight="bold" text-anchor="middle" fill="#000">100</text>
<text x="66" y="679" font-family="'Liberation Serif', 'Times New Roman', serif" font-size="20" font-weight="bold" text-anchor="start" fill="#000" textLength="49.2" lengthAdjust="spacingAndGlyphs">IL-35</text>
<text x="17.4" y="708.3" font-family="'Liberation Serif', 'Times New Roman', serif" font-size="19.5" font-weight="bold" text-anchor="start" fill="#000" textLength="99" lengthAdjust="spacingAndGlyphs">Plumbagin</text>
<text x="153.2" y="709.6" font-family="'Liberation Sans', Arial, sans-serif" font-size="18.5" font-weight="bold" text-anchor="middle" fill="#000">-</text>
<text x="190.8" y="709.1" font-family="'Liberation Sans', Arial, sans-serif" font-size="18.5" font-weight="bold" text-anchor="middle" fill="#000">+</text>
<text x="238.2" y="709.6" font-family="'Liberation Sans', Arial, sans-serif" font-size="18.5" font-weight="bold" text-anchor="middle" fill="#000">-</text>
<text x="275.4" y="709.1" font-family="'Liberation Sans', Arial, sans-serif" font-size="18.5" font-weight="bold" text-anchor="middle" fill="#000">+</text>
<text x="328" y="709.6" font-family="'Liberation Sans', Arial, sans-serif" font-size="18.5" font-weight="bold" text-anchor="middle" fill="#000">-</text>
<text x="365.4" y="709.1" font-family="'Liberation Sans', Arial, sans-serif" font-size="18.5" font-weight="bold" text-anchor="middle" fill="#000">+</text>
<text x="412.4" y="709.6" font-family="'Liberation Sans', Arial, sans-serif" font-size="18.5" font-weight="bold" text-anchor="middle" fill="#000">-</text>
<text x="449.5" y="709.1" font-family="'Liberation Sans', Arial, sans-serif" font-size="18.5" font-weight="bold" text-anchor="middle" fill="#000">+</text>
<text transform="translate(86 525.6) rotate(-90)" x="0" y="0" font-family="'Liberation Sans', Arial, sans-serif" font-size="15" font-weight="bold" text-anchor="middle" textLength="142" lengthAdjust="spacingAndGlyphs">Grayscale Ratio</text>
<text transform="translate(106 530.5) rotate(-90)" x="0" y="0" font-family="'Liberation Sans', Arial, sans-serif" font-size="15" font-weight="bold" text-anchor="middle" textLength="132" lengthAdjust="spacingAndGlyphs">(VEGF/βactin)</text>
<text x="0" y="393.3" font-family="'Liberation Sans', Arial, sans-serif" font-size="30" font-weight="bold" text-anchor="start" fill="#000">E</text>
<rect x="636.25" y="468" width="23.75" height="179.3" fill="#000"/>
<rect x="668" y="477" width="23.75" height="170.3" fill="#000"/>
<rect x="720.5" y="493.25" width="22.5" height="150.05" fill="#a3a3a7"/>
<rect x="721" y="493.75" width="21.5" height="149.05" fill="none" stroke="#919195" stroke-width="1"/>
<rect x="752.5" y="482" width="22" height="161.3" fill="#a3a3a7"/>
<rect x="753" y="482.5" width="21" height="160.3" fill="none" stroke="#919195" stroke-width="1"/>
<rect x="805.5" y="524.5" width="21.5" height="118.8" fill="#838383"/>
<rect x="806" y="525" width="20.5" height="117.8" fill="none" stroke="#6e6e6e" stroke-width="1"/>
<rect x="837" y="482" width="21.75" height="161.3" fill="#838383"/>
<rect x="837.5" y="482.5" width="20.75" height="160.3" fill="none" stroke="#6e6e6e" stroke-width="1"/>
<rect x="888.25" y="570" width="23.75" height="73.3" fill="#d6d6d6"/>
<rect x="888.75" y="570.5" width="22.75" height="72.3" fill="none" stroke="#c6c6c6" stroke-width="1"/>
<rect x="921.25" y="482" width="22.5" height="161.3" fill="#d6d6d6"/>
<rect x="921.75" y="482.5" width="21.5" height="160.3" fill="none" stroke="#c6c6c6" stroke-width="1"/>
<line x1="648.12" y1="468" x2="648.12" y2="466" stroke="#000" stroke-width="2" stroke-linecap="butt"/>
<line x1="643.12" y1="466" x2="653.12" y2="466" stroke="#000" stroke-width="2.4" stroke-linecap="round"/>
<line x1="679.88" y1="477" x2="679.88" y2="474.5" stroke="#000" stroke-width="2" stroke-linecap="butt"/>
<line x1="674.88" y1="474.5" x2="684.88" y2="474.5" stroke="#000" stroke-width="2.4" stroke-linecap="round"/>
<line x1="731.75" y1="493.25" x2="731.75" y2="489.5" stroke="#000" stroke-width="2" stroke-linecap="butt"/>
<line x1="726.75" y1="489.5" x2="736.75" y2="489.5" stroke="#000" stroke-width="2.4" stroke-linecap="round"/>
<line x1="763.5" y1="482" x2="763.5" y2="475" stroke="#000" stroke-width="2" stroke-linecap="butt"/>
<line x1="758.5" y1="475" x2="768.5" y2="475" stroke="#000" stroke-width="2.4" stroke-linecap="round"/>
<line x1="816.25" y1="524.5" x2="816.25" y2="520.75" stroke="#000" stroke-width="2" stroke-linecap="butt"/>
<line x1="811.25" y1="520.75" x2="821.25" y2="520.75" stroke="#000" stroke-width="2.4" stroke-linecap="round"/>
<line x1="847.88" y1="482" x2="847.88" y2="477" stroke="#000" stroke-width="2" stroke-linecap="butt"/>
<line x1="842.88" y1="477" x2="852.88" y2="477" stroke="#000" stroke-width="2.4" stroke-linecap="round"/>
<line x1="900.12" y1="570" x2="900.12" y2="569" stroke="#000" stroke-width="2" stroke-linecap="butt"/>
<line x1="895.12" y1="569" x2="905.12" y2="569" stroke="#000" stroke-width="2.4" stroke-linecap="round"/>
<line x1="932.5" y1="482" x2="932.5" y2="475" stroke="#000" stroke-width="2" stroke-linecap="butt"/>
<line x1="927.5" y1="475" x2="937.5" y2="475" stroke="#000" stroke-width="2.4" stroke-linecap="round"/>
<line x1="626.5" y1="419.5" x2="626.5" y2="648.45" stroke="#000" stroke-width="2.3" stroke-linecap="butt"/>
<line x1="622.3" y1="647.3" x2="952.5" y2="647.3" stroke="#000" stroke-width="2.3" stroke-linecap="butt"/>
<line x1="622.5" y1="646.75" x2="626.5" y2="646.75" stroke="#000" stroke-width="2.3" stroke-linecap="butt"/>
<text x="618" y="652.5" font-family="'Liberation Sans', Arial, sans-serif" font-size="16.5" font-weight="bold" text-anchor="end" fill="#000" textLength="8.6" lengthAdjust="spacingAndGlyphs">0</text>
<line x1="622.5" y1="601.4" x2="626.5" y2="601.4" stroke="#000" stroke-width="2.3" stroke-linecap="butt"/>
<text x="618" y="607.15" font-family="'Liberation Sans', Arial, sans-serif" font-size="16.5" font-weight="bold" text-anchor="end" fill="#000">1</text>
<line x1="622.5" y1="556.05" x2="626.5" y2="556.05" stroke="#000" stroke-width="2.3" stroke-linecap="butt"/>
<text x="618" y="561.8" font-family="'Liberation Sans', Arial, sans-serif" font-size="16.5" font-weight="bold" text-anchor="end" fill="#000" textLength="8.6" lengthAdjust="spacingAndGlyphs">2</text>
<line x1="622.5" y1="510.7" x2="626.5" y2="510.7" stroke="#000" stroke-width="2.3" stroke-linecap="butt"/>
<text x="618" y="516.45" font-family="'Liberation Sans', Arial, sans-serif" font-size="16.5" font-weight="bold" text-anchor="end" fill="#000">3</text>
<line x1="622.5" y1="465.35" x2="626.5" y2="465.35" stroke="#000" stroke-width="2.3" stroke-linecap="butt"/>
<text x="618" y="471.1" font-family="'Liberation Sans', Arial, sans-serif" font-size="16.5" font-weight="bold" text-anchor="end" fill="#000" textLength="8.6" lengthAdjust="spacingAndGlyphs">4</text>
<line x1="622.5" y1="420" x2="626.5" y2="420" stroke="#000" stroke-width="2.3" stroke-linecap="butt"/>
<text x="618" y="425.75" font-family="'Liberation Sans', Arial, sans-serif" font-size="16.5" font-weight="bold" text-anchor="end" fill="#000" textLength="8.6" lengthAdjust="spacingAndGlyphs">5</text>
<line x1="663.75" y1="647.3" x2="663.75" y2="653" stroke="#000" stroke-width="2.3" stroke-linecap="butt"/>
<line x1="747" y1="647.3" x2="747" y2="653" stroke="#000" stroke-width="2.3" stroke-linecap="butt"/>
<line x1="832" y1="647.3" x2="832" y2="653" stroke="#000" stroke-width="2.3" stroke-linecap="butt"/>
<line x1="915.5" y1="647.3" x2="915.5" y2="653" stroke="#000" stroke-width="2.3" stroke-linecap="butt"/>
<path d="M648 455 V449.25 H680.75 V455" fill="none" stroke="#262626" stroke-width="2" stroke-linejoin="round" stroke-linecap="round"/>
<text x="668.75" y="441.75" font-family="'Liberation Sans', Arial, sans-serif" font-size="19" font-weight="normal" text-anchor="middle" fill="#1a1a1a" textLength="17.6" lengthAdjust="spacingAndGlyphs" stroke="#1a1a1a" stroke-width="0.35">ns</text>
<path d="M731.25 475 V449.25 H763.75 V455" fill="none" stroke="#262626" stroke-width="2" stroke-linejoin="round" stroke-linecap="round"/>
<text x="747" y="446.37" font-family="'Liberation Sans', Arial, sans-serif" font-size="15.5" font-weight="bold" text-anchor="middle" fill="#000">•</text>
<path d="M815.75 506.25 V452.5 H848 V458.75" fill="none" stroke="#262626" stroke-width="2" stroke-linejoin="round" stroke-linecap="round"/>
<text x="831.35" y="448.87" font-family="'Liberation Sans', Arial, sans-serif" font-size="15.5" font-weight="bold" text-anchor="middle" fill="#000">•</text>
<text x="839.65" y="448.87" font-family="'Liberation Sans', Arial, sans-serif" font-size="15.5" font-weight="bold" text-anchor="middle" fill="#000">•</text>
<path d="M900 553 V454.5 H930 V461.25" fill="none" stroke="#262626" stroke-width="2" stroke-linejoin="round" stroke-linecap="round"/>
<text x="909.6" y="451.37" font-family="'Liberation Sans', Arial, sans-serif" font-size="15.5" font-weight="bold" text-anchor="middle" fill="#000">•</text>
<text x="917.9" y="451.37" font-family="'Liberation Sans', Arial, sans-serif" font-size="15.5" font-weight="bold" text-anchor="middle" fill="#000">•</text>
<text x="663.2" y="679.3" font-family="'Liberation Sans', Arial, sans-serif" font-size="17" font-weight="bold" text-anchor="middle" fill="#000">0</text>
<text x="747.2" y="679.3" font-family="'Liberation Sans', Arial, sans-serif" font-size="17" font-weight="bold" text-anchor="middle" fill="#000">25</text>
<text x="831" y="679.3" font-family="'Liberation Sans', Arial, sans-serif" font-size="17" font-weight="bold" text-anchor="middle" fill="#000">50</text>
<text x="915" y="679.3" font-family="'Liberation Sans', Arial, sans-serif" font-size="17" font-weight="bold" text-anchor="middle" fill="#000">100</text>
<text x="551.7" y="682" font-family="'Liberation Serif', 'Times New Roman', serif" font-size="20" font-weight="bold" text-anchor="start" fill="#000" textLength="48.2" lengthAdjust="spacingAndGlyphs">IL-35</text>
<text x="511.8" y="713.3" font-family="'Liberation Serif', 'Times New Roman', serif" font-size="19.5" font-weight="bold" text-anchor="start" fill="#000" textLength="97.2" lengthAdjust="spacingAndGlyphs">Plumbagin</text>
<text x="645.1" y="714" font-family="'Liberation Sans', Arial, sans-serif" font-size="18.5" font-weight="bold" text-anchor="middle" fill="#000">-</text>
<text x="681.2" y="713.1" font-family="'Liberation Sans', Arial, sans-serif" font-size="18.5" font-weight="bold" text-anchor="middle" fill="#000">+</text>
<text x="732.9" y="714" font-family="'Liberation Sans', Arial, sans-serif" font-size="18.5" font-weight="bold" text-anchor="middle" fill="#000">-</text>
<text x="763.75" y="713.1" font-family="'Liberation Sans', Arial, sans-serif" font-size="18.5" font-weight="bold" text-anchor="middle" fill="#000">+</text>
<text x="816.25" y="714" font-family="'Liberation Sans', Arial, sans-serif" font-size="18.5" font-weight="bold" text-anchor="middle" fill="#000">-</text>
<text x="846.25" y="713.1" font-family="'Liberation Sans', Arial, sans-serif" font-size="18.5" font-weight="bold" text-anchor="middle" fill="#000">+</text>
<text x="898.75" y="714" font-family="'Liberation Sans', Arial, sans-serif" font-size="18.5" font-weight="bold" text-anchor="middle" fill="#000">-</text>
<text x="928.75" y="713.1" font-family="'Liberation Sans', Arial, sans-serif" font-size="18.5" font-weight="bold" text-anchor="middle" fill="#000">+</text>
<text transform="translate(576.5 532.5) rotate(-90)" x="0" y="0" font-family="'Liberation Sans', Arial, sans-serif" font-size="15" font-weight="bold" text-anchor="middle" textLength="138.7" lengthAdjust="spacingAndGlyphs">Grayscale Ratio</text>
<text transform="translate(599 532.2) rotate(-90)" x="0" y="0" font-family="'Liberation Sans', Arial, sans-serif" font-size="15" font-weight="bold" text-anchor="middle" textLength="113" lengthAdjust="spacingAndGlyphs">(Flt-1/βactin)</text>
<text x="530" y="392.9" font-family="'Liberation Sans', Arial, sans-serif" font-size="30" font-weight="bold" text-anchor="start" fill="#000">F</text>
<rect x="1112" y="496.75" width="20.5" height="153" fill="#000"/>
<rect x="1144.5" y="452.5" width="21" height="195.25" fill="#a2a2a2"/>
<rect x="1145" y="453" width="20" height="194.25" fill="none" stroke="#979797" stroke-width="1"/>
<rect x="1198" y="520.75" width="21.25" height="129" fill="#000"/>
<rect x="1232" y="490" width="20.5" height="157.75" fill="#a2a2a2"/>
<rect x="1232.5" y="490.5" width="19.5" height="156.75" fill="none" stroke="#979797" stroke-width="1"/>
<rect x="1285" y="546" width="22" height="103.75" fill="#000"/>
<rect x="1319.5" y="517.5" width="19.25" height="130.25" fill="#a2a2a2"/>
<rect x="1320" y="518" width="18.25" height="129.25" fill="none" stroke="#979797" stroke-width="1"/>
<rect x="1372.5" y="582.5" width="20.5" height="67.25" fill="#000"/>
<rect x="1404.5" y="549.25" width="21.75" height="98.5" fill="#a2a2a2"/>
<rect x="1405" y="549.75" width="20.75" height="97.5" fill="none" stroke="#979797" stroke-width="1"/>
<line x1="1117.25" y1="496.75" x2="1127.25" y2="496.75" stroke="#000" stroke-width="2.4" stroke-linecap="round"/>
<line x1="1155" y1="452.5" x2="1155" y2="443" stroke="#000" stroke-width="2" stroke-linecap="butt"/>
<line x1="1150" y1="443" x2="1160" y2="443" stroke="#000" stroke-width="2.4" stroke-linecap="round"/>
<line x1="1208.62" y1="520.75" x2="1208.62" y2="515" stroke="#000" stroke-width="2" stroke-linecap="butt"/>
<line x1="1203.62" y1="515" x2="1213.62" y2="515" stroke="#000" stroke-width="2.4" stroke-linecap="round"/>
<line x1="1242.25" y1="490" x2="1242.25" y2="489" stroke="#000" stroke-width="2" stroke-linecap="butt"/>
<line x1="1237.25" y1="489" x2="1247.25" y2="489" stroke="#000" stroke-width="2.4" stroke-linecap="round"/>
<line x1="1291" y1="546" x2="1301" y2="546" stroke="#000" stroke-width="2.4" stroke-linecap="round"/>
<line x1="1329.12" y1="517.5" x2="1329.12" y2="512" stroke="#000" stroke-width="2" stroke-linecap="butt"/>
<line x1="1324.12" y1="512" x2="1334.12" y2="512" stroke="#000" stroke-width="2.4" stroke-linecap="round"/>
<line x1="1382.75" y1="582.5" x2="1382.75" y2="575.5" stroke="#000" stroke-width="2" stroke-linecap="butt"/>
<line x1="1377.75" y1="575.5" x2="1387.75" y2="575.5" stroke="#000" stroke-width="2.4" stroke-linecap="round"/>
<line x1="1415.38" y1="549.25" x2="1415.38" y2="544.25" stroke="#000" stroke-width="2" stroke-linecap="butt"/>
<line x1="1410.38" y1="544.25" x2="1420.38" y2="544.25" stroke="#000" stroke-width="2.4" stroke-linecap="round"/>
<line x1="1095.1" y1="418" x2="1095.1" y2="650.75" stroke="#000" stroke-width="2" stroke-linecap="butt"/>
<line x1="1088.5" y1="649.75" x2="1445" y2="649.75" stroke="#000" stroke-width="2" stroke-linecap="butt"/>
<line x1="1089.1" y1="649.75" x2="1095.1" y2="649.75" stroke="#000" stroke-width="2" stroke-linecap="butt"/>
<text x="1084.5" y="655.4" font-family="'Liberation Sans', Arial, sans-serif" font-size="16" font-weight="bold" text-anchor="end" fill="#000">0.0</text>
<line x1="1089.1" y1="572.92" x2="1095.1" y2="572.92" stroke="#000" stroke-width="2" stroke-linecap="butt"/>
<text x="1084.5" y="578.57" font-family="'Liberation Sans', Arial, sans-serif" font-size="16" font-weight="bold" text-anchor="end" fill="#000">0.5</text>
<line x1="1089.1" y1="496.08" x2="1095.1" y2="496.08" stroke="#000" stroke-width="2" stroke-linecap="butt"/>
<text x="1084.5" y="501.73" font-family="'Liberation Sans', Arial, sans-serif" font-size="16" font-weight="bold" text-anchor="end" fill="#000">1.0</text>
<line x1="1089.1" y1="419.25" x2="1095.1" y2="419.25" stroke="#000" stroke-width="2" stroke-linecap="butt"/>
<text x="1084.5" y="424.9" font-family="'Liberation Sans', Arial, sans-serif" font-size="16" font-weight="bold" text-anchor="end" fill="#000">1.5</text>
<line x1="1138" y1="649.75" x2="1138" y2="657" stroke="#000" stroke-width="2" stroke-linecap="butt"/>
<line x1="1225" y1="649.75" x2="1225" y2="657" stroke="#000" stroke-width="2" stroke-linecap="butt"/>
<line x1="1312.5" y1="649.75" x2="1312.5" y2="657" stroke="#000" stroke-width="2" stroke-linecap="butt"/>
<line x1="1398.75" y1="649.75" x2="1398.75" y2="657" stroke="#000" stroke-width="2" stroke-linecap="butt"/>
<path d="M1118 472 V411 H1156 V418.75" fill="none" stroke="#000" stroke-width="2" stroke-linejoin="miter"/>
<text x="1132.7" y="404.74" font-family="'DejaVu Sans', sans-serif" font-size="9" font-weight="normal" text-anchor="middle" fill="#000" stroke="#000" stroke-width="0.35">★</text>
<text x="1142.3" y="404.74" font-family="'DejaVu Sans', sans-serif" font-size="9" font-weight="normal" text-anchor="middle" fill="#000" stroke="#000" stroke-width="0.35">★</text>
<path d="M1206 495 V411 H1243 V472" fill="none" stroke="#000" stroke-width="2" stroke-linejoin="miter"/>
<text x="1218.2" y="404.74" font-family="'DejaVu Sans', sans-serif" font-size="9" font-weight="normal" text-anchor="middle" fill="#000" stroke="#000" stroke-width="0.35">★</text>
<text x="1227.8" y="404.74" font-family="'DejaVu Sans', sans-serif" font-size="9" font-weight="normal" text-anchor="middle" fill="#000" stroke="#000" stroke-width="0.35">★</text>
<path d="M1296 515 V413 H1329 V507.5" fill="none" stroke="#000" stroke-width="2" stroke-linejoin="miter"/>
<text x="1307.7" y="405.99" font-family="'DejaVu Sans', sans-serif" font-size="9" font-weight="normal" text-anchor="middle" fill="#000" stroke="#000" stroke-width="0.35">★</text>
<text x="1317.3" y="405.99" font-family="'DejaVu Sans', sans-serif" font-size="9" font-weight="normal" text-anchor="middle" fill="#000" stroke="#000" stroke-width="0.35">★</text>
<path d="M1383 562.5 V413 H1416 V515" fill="none" stroke="#000" stroke-width="2" stroke-linejoin="miter"/>
<text x="1392.7" y="405.99" font-family="'DejaVu Sans', sans-serif" font-size="9" font-weight="normal" text-anchor="middle" fill="#000" stroke="#000" stroke-width="0.35">★</text>
<text x="1402.3" y="405.99" font-family="'DejaVu Sans', sans-serif" font-size="9" font-weight="normal" text-anchor="middle" fill="#000" stroke="#000" stroke-width="0.35">★</text>
<text x="1138" y="674.2" font-family="'Liberation Sans', Arial, sans-serif" font-size="17" font-weight="bold" text-anchor="middle" fill="#000">0</text>
<text x="1224.6" y="674.2" font-family="'Liberation Sans', Arial, sans-serif" font-size="17" font-weight="bold" text-anchor="middle" fill="#000">25</text>
<text x="1311.25" y="674.2" font-family="'Liberation Sans', Arial, sans-serif" font-size="17" font-weight="bold" text-anchor="middle" fill="#000">50</text>
<text x="1398" y="674.2" font-family="'Liberation Sans', Arial, sans-serif" font-size="17" font-weight="bold" text-anchor="middle" fill="#000">100</text>
<text x="1011" y="672.5" font-family="'Liberation Sans', Arial, sans-serif" font-size="19.3" font-weight="normal" text-anchor="start" fill="#000" textLength="43.5" lengthAdjust="spacingAndGlyphs" stroke="#000" stroke-width="0.6">IL-35</text>
<text x="968.1" y="708.6" font-family="'Liberation Sans', Arial, sans-serif" font-size="18.5" font-weight="normal" text-anchor="start" fill="#000" textLength="98" lengthAdjust="spacingAndGlyphs" stroke="#000" stroke-width="0.6">Plumbagin</text>
<text x="1109.5" y="710.8" font-family="'Liberation Sans', Arial, sans-serif" font-size="16" font-weight="normal" text-anchor="middle" fill="#000">-</text>
<text x="1154" y="711.3" font-family="'Liberation Sans', Arial, sans-serif" font-size="16" font-weight="bold" text-anchor="middle" fill="#000">+</text>
<text x="1202.4" y="710.8" font-family="'Liberation Sans', Arial, sans-serif" font-size="16" font-weight="normal" text-anchor="middle" fill="#000">-</text>
<text x="1243.75" y="711.3" font-family="'Liberation Sans', Arial, sans-serif" font-size="16" font-weight="bold" text-anchor="middle" fill="#000">+</text>
<text x="1293.25" y="710.8" font-family="'Liberation Sans', Arial, sans-serif" font-size="16" font-weight="normal" text-anchor="middle" fill="#000">-</text>
<text x="1331.75" y="711.3" font-family="'Liberation Sans', Arial, sans-serif" font-size="16" font-weight="bold" text-anchor="middle" fill="#000">+</text>
<text x="1376.25" y="710.8" font-family="'Liberation Sans', Arial, sans-serif" font-size="16" font-weight="normal" text-anchor="middle" fill="#000">-</text>
<text x="1417.5" y="711.3" font-family="'Liberation Sans', Arial, sans-serif" font-size="16" font-weight="bold" text-anchor="middle" fill="#000">+</text>
<text transform="translate(1040.8 532.6) rotate(-90)" x="0" y="0" font-family="'Liberation Sans', Arial, sans-serif" font-size="15" font-weight="bold" text-anchor="middle" textLength="185.5" lengthAdjust="spacingAndGlyphs">Ratio(IL-17A/β-actin)</text>
<text x="993.3" y="392.6" font-family="'Liberation Sans', Arial, sans-serif" font-size="30" font-weight="bold" text-anchor="start" fill="#000">G</text>
<rect x="1615.9" y="465" width="21.8" height="175" fill="#000"/>
<rect x="1649.25" y="420" width="21.5" height="217" fill="#a2a2a2"/>
<rect x="1649.75" y="420.5" width="20.5" height="216" fill="none" stroke="#979797" stroke-width="1"/>
<rect x="1704.5" y="482.5" width="20.5" height="157.5" fill="#000"/>
<rect x="1737" y="444.5" width="21" height="192.5" fill="#a2a2a2"/>
<rect x="1737.5" y="445" width="20" height="191.5" fill="none" stroke="#979797" stroke-width="1"/>
<rect x="1792.5" y="506.25" width="21.25" height="133.75" fill="#000"/>
<rect x="1826.25" y="488.75" width="20.75" height="148.25" fill="#a2a2a2"/>
<rect x="1826.75" y="489.25" width="19.75" height="147.25" fill="none" stroke="#979797" stroke-width="1"/>
<rect x="1881.25" y="550.5" width="21.25" height="89.5" fill="#000"/>
<rect x="1914.5" y="518.75" width="21.25" height="118.25" fill="#a2a2a2"/>
<rect x="1915" y="519.25" width="20.25" height="117.25" fill="none" stroke="#979797" stroke-width="1"/>
<line x1="1626.8" y1="465" x2="1626.8" y2="461.75" stroke="#000" stroke-width="2" stroke-linecap="butt"/>
<line x1="1621.8" y1="461.75" x2="1631.8" y2="461.75" stroke="#000" stroke-width="2.4" stroke-linecap="round"/>
<line x1="1660" y1="420" x2="1660" y2="418" stroke="#000" stroke-width="2" stroke-linecap="butt"/>
<line x1="1655" y1="418" x2="1665" y2="418" stroke="#000" stroke-width="2.4" stroke-linecap="round"/>
<line x1="1714.75" y1="482.5" x2="1714.75" y2="477.5" stroke="#000" stroke-width="2" stroke-linecap="butt"/>
<line x1="1709.75" y1="477.5" x2="1719.75" y2="477.5" stroke="#000" stroke-width="2.4" stroke-linecap="round"/>
<line x1="1747.5" y1="444.5" x2="1747.5" y2="442" stroke="#000" stroke-width="2" stroke-linecap="butt"/>
<line x1="1742.5" y1="442" x2="1752.5" y2="442" stroke="#000" stroke-width="2.4" stroke-linecap="round"/>
<line x1="1803.12" y1="506.25" x2="1803.12" y2="504.5" stroke="#000" stroke-width="2" stroke-linecap="butt"/>
<line x1="1798.12" y1="504.5" x2="1808.12" y2="504.5" stroke="#000" stroke-width="2.4" stroke-linecap="round"/>
<line x1="1836.62" y1="488.75" x2="1836.62" y2="487" stroke="#000" stroke-width="2" stroke-linecap="butt"/>
<line x1="1831.62" y1="487" x2="1841.62" y2="487" stroke="#000" stroke-width="2.4" stroke-linecap="round"/>
<line x1="1891.88" y1="550.5" x2="1891.88" y2="546.75" stroke="#000" stroke-width="2" stroke-linecap="butt"/>
<line x1="1886.88" y1="546.75" x2="1896.88" y2="546.75" stroke="#000" stroke-width="2.4" stroke-linecap="round"/>
<line x1="1925.12" y1="518.75" x2="1925.12" y2="517.5" stroke="#000" stroke-width="2" stroke-linecap="butt"/>
<line x1="1920.12" y1="517.5" x2="1930.12" y2="517.5" stroke="#000" stroke-width="2.4" stroke-linecap="round"/>
<line x1="1598.9" y1="402.5" x2="1598.9" y2="641" stroke="#000" stroke-width="2" stroke-linecap="butt"/>
<line x1="1591.5" y1="640" x2="1953.75" y2="640" stroke="#000" stroke-width="2" stroke-linecap="butt"/>
<line x1="1592.9" y1="640" x2="1598.9" y2="640" stroke="#000" stroke-width="2" stroke-linecap="butt"/>
<text x="1588.3" y="645.65" font-family="'Liberation Sans', Arial, sans-serif" font-size="16" font-weight="bold" text-anchor="end" fill="#000">0</text>
<line x1="1592.9" y1="592.75" x2="1598.9" y2="592.75" stroke="#000" stroke-width="2" stroke-linecap="butt"/>
<text x="1588.3" y="598.4" font-family="'Liberation Sans', Arial, sans-serif" font-size="16" font-weight="bold" text-anchor="end" fill="#000">2</text>
<line x1="1592.9" y1="545.5" x2="1598.9" y2="545.5" stroke="#000" stroke-width="2" stroke-linecap="butt"/>
<text x="1588.3" y="551.15" font-family="'Liberation Sans', Arial, sans-serif" font-size="16" font-weight="bold" text-anchor="end" fill="#000">4</text>
<line x1="1592.9" y1="498.25" x2="1598.9" y2="498.25" stroke="#000" stroke-width="2" stroke-linecap="butt"/>
<text x="1588.3" y="503.9" font-family="'Liberation Sans', Arial, sans-serif" font-size="16" font-weight="bold" text-anchor="end" fill="#000">6</text>
<line x1="1592.9" y1="451" x2="1598.9" y2="451" stroke="#000" stroke-width="2" stroke-linecap="butt"/>
<text x="1588.3" y="456.65" font-family="'Liberation Sans', Arial, sans-serif" font-size="16" font-weight="bold" text-anchor="end" fill="#000">8</text>
<line x1="1592.9" y1="403.75" x2="1598.9" y2="403.75" stroke="#000" stroke-width="2" stroke-linecap="butt"/>
<text x="1588.3" y="409.4" font-family="'Liberation Sans', Arial, sans-serif" font-size="16" font-weight="bold" text-anchor="end" fill="#000">10</text>
<line x1="1643.4" y1="640" x2="1643.4" y2="647" stroke="#000" stroke-width="2" stroke-linecap="butt"/>
<line x1="1730.5" y1="640" x2="1730.5" y2="647" stroke="#000" stroke-width="2" stroke-linecap="butt"/>
<line x1="1819.25" y1="640" x2="1819.25" y2="647" stroke="#000" stroke-width="2" stroke-linecap="butt"/>
<line x1="1907.5" y1="640" x2="1907.5" y2="647" stroke="#000" stroke-width="2" stroke-linecap="butt"/>
<path d="M1622 442 V388 H1660 V398.75" fill="none" stroke="#000" stroke-width="2" stroke-linejoin="miter"/>
<text x="1636.45" y="380.24" font-family="'DejaVu Sans', sans-serif" font-size="9" font-weight="normal" text-anchor="middle" fill="#000" stroke="#000" stroke-width="0.35">★</text>
<text x="1646.05" y="380.24" font-family="'DejaVu Sans', sans-serif" font-size="9" font-weight="normal" text-anchor="middle" fill="#000" stroke="#000" stroke-width="0.35">★</text>
<path d="M1710 451.25 V388 H1746 V422.5" fill="none" stroke="#000" stroke-width="2" stroke-linejoin="miter"/>
<text x="1723.2" y="380.24" font-family="'DejaVu Sans', sans-serif" font-size="9" font-weight="normal" text-anchor="middle" fill="#000" stroke="#000" stroke-width="0.35">★</text>
<text x="1732.8" y="380.24" font-family="'DejaVu Sans', sans-serif" font-size="9" font-weight="normal" text-anchor="middle" fill="#000" stroke="#000" stroke-width="0.35">★</text>
<path d="M1803 483 V388 H1835 V462.5" fill="none" stroke="#000" stroke-width="2" stroke-linejoin="miter"/>
<text x="1813.95" y="380.24" font-family="'DejaVu Sans', sans-serif" font-size="9" font-weight="normal" text-anchor="middle" fill="#000" stroke="#000" stroke-width="0.35">★</text>
<text x="1823.55" y="380.24" font-family="'DejaVu Sans', sans-serif" font-size="9" font-weight="normal" text-anchor="middle" fill="#000" stroke="#000" stroke-width="0.35">★</text>
<path d="M1890 521.25 V388 H1925 V505" fill="none" stroke="#000" stroke-width="2" stroke-linejoin="miter"/>
<text x="1901.45" y="380.24" font-family="'DejaVu Sans', sans-serif" font-size="9" font-weight="normal" text-anchor="middle" fill="#000" stroke="#000" stroke-width="0.35">★</text>
<text x="1911.05" y="380.24" font-family="'DejaVu Sans', sans-serif" font-size="9" font-weight="normal" text-anchor="middle" fill="#000" stroke="#000" stroke-width="0.35">★</text>
<text x="1641.9" y="664.5" font-family="'Liberation Sans', Arial, sans-serif" font-size="16.5" font-weight="bold" text-anchor="middle" fill="#000">0</text>
<text x="1730" y="664.5" font-family="'Liberation Sans', Arial, sans-serif" font-size="16.5" font-weight="bold" text-anchor="middle" fill="#000">25</text>
<text x="1818.25" y="664.5" font-family="'Liberation Sans', Arial, sans-serif" font-size="16.5" font-weight="bold" text-anchor="middle" fill="#000">50</text>
<text x="1907.5" y="664.5" font-family="'Liberation Sans', Arial, sans-serif" font-size="16.5" font-weight="bold" text-anchor="middle" fill="#000">100</text>
<text x="1519.8" y="663" font-family="'Liberation Sans', Arial, sans-serif" font-size="16.5" font-weight="normal" text-anchor="start" fill="#000" textLength="39.6" lengthAdjust="spacingAndGlyphs" stroke="#000" stroke-width="0.7">IL-35</text>
<text x="1480.6" y="701.8" font-family="'Liberation Sans', Arial, sans-serif" font-size="16.3" font-weight="bold" text-anchor="start" fill="#000" textLength="85.5" lengthAdjust="spacingAndGlyphs">Plumbagin</text>
<text x="1620.4" y="702.1" font-family="'Liberation Sans', Arial, sans-serif" font-size="16" font-weight="normal" text-anchor="middle" fill="#000">-</text>
<text x="1660" y="702.8" font-family="'Liberation Sans', Arial, sans-serif" font-size="16" font-weight="bold" text-anchor="middle" fill="#000">+</text>
<text x="1706.75" y="702.1" font-family="'Liberation Sans', Arial, sans-serif" font-size="16" font-weight="normal" text-anchor="middle" fill="#000">-</text>
<text x="1749.5" y="702.8" font-family="'Liberation Sans', Arial, sans-serif" font-size="16" font-weight="bold" text-anchor="middle" fill="#000">+</text>
<text x="1801.25" y="702.1" font-family="'Liberation Sans', Arial, sans-serif" font-size="16" font-weight="normal" text-anchor="middle" fill="#000">-</text>
<text x="1840" y="702.8" font-family="'Liberation Sans', Arial, sans-serif" font-size="16" font-weight="bold" text-anchor="middle" fill="#000">+</text>
<text x="1886.25" y="702.1" font-family="'Liberation Sans', Arial, sans-serif" font-size="16" font-weight="normal" text-anchor="middle" fill="#000">-</text>
<text x="1927.5" y="702.8" font-family="'Liberation Sans', Arial, sans-serif" font-size="16" font-weight="bold" text-anchor="middle" fill="#000">+</text>
<text transform="translate(1506.3 521.5) rotate(-90)" x="0" y="0" font-family="'Liberation Sans', Arial, sans-serif" font-size="16" font-weight="bold" text-anchor="middle" textLength="134" lengthAdjust="spacingAndGlyphs">IL-17A protein</text>
<text transform="translate(1531.3 520.8) rotate(-90)" x="0" y="0" font-family="'Liberation Sans', Arial, sans-serif" font-size="16" font-weight="bold" text-anchor="middle" textLength="102" lengthAdjust="spacingAndGlyphs">expression</text>
<text transform="translate(1555.6 520.8) rotate(-90)" x="0" y="0" font-family="'Liberation Sans', Arial, sans-serif" font-size="16" font-weight="bold" text-anchor="middle" textLength="63.6" lengthAdjust="spacingAndGlyphs">(pg/ml)</text>
<text x="1501.7" y="392.6" font-family="'Liberation Sans', Arial, sans-serif" font-size="30" font-weight="bold" text-anchor="start" fill="#000">H</text>
<rect x="1506.3" y="100" width="211.7" height="56.5" fill="url(#vegfL)"/>
<rect x="1506.3" y="100" width="211.7" height="56.5" fill="#000" opacity="0.07" filter="url(#noise1)"/>
<rect x="1555.6" y="100" width="8" height="56.5" fill="#e2e2e2" opacity="0.85" filter="url(#bl3)"/>
<rect x="1612.6" y="100" width="8" height="56.5" fill="#e2e2e2" opacity="0.85" filter="url(#bl3)"/>
<rect x="1666.6" y="100" width="8" height="56.5" fill="#e2e2e2" opacity="0.85" filter="url(#bl3)"/>
<rect x="1507" y="105" width="49" height="6" rx="3" fill="#acacac" opacity="0.7" filter="url(#bl3)"/>
<rect x="1564" y="105" width="46" height="6" rx="3" fill="#acacac" opacity="0.7" filter="url(#bl3)"/>
<rect x="1621" y="105" width="44" height="6" rx="3" fill="#acacac" opacity="0.7" filter="url(#bl3)"/>
<rect x="1676" y="105" width="42" height="6" rx="3" fill="#acacac" opacity="0.7" filter="url(#bl3)"/>
<rect x="1507.5" y="116.8" width="47.5" height="10" rx="5" fill="url(#g0)" opacity="1" filter="url(#bl2)"/>
<rect x="1565" y="119.6" width="44" height="8" rx="4" fill="url(#g1)" opacity="0.75" filter="url(#bl3s)"/>
<rect x="1622" y="120.8" width="41" height="8" rx="4" fill="#969696" opacity="0.75" filter="url(#bl3s)"/>
<rect x="1677" y="121.7" width="40.5" height="9" rx="4.5" fill="#a2a2a2" opacity="0.7" filter="url(#bl3s)"/>
<rect x="1506.3" y="155" width="211.7" height="1.5" fill="#9a9a9a" opacity="0.5"/>
<rect x="1733" y="100.6" width="214.2" height="52.7" fill="url(#vegfR)"/>
<rect x="1735.8" y="119.2" width="44.9" height="12" rx="3.5" fill="url(#g2)" opacity="1" filter="url(#bl2)"/>
<rect x="1790.2" y="119.05" width="46" height="11.5" rx="3.5" fill="url(#g3)" opacity="1" filter="url(#bl2)"/>
<rect x="1845.2" y="118.1" width="45.4" height="13" rx="3.5" fill="#030303" opacity="1" filter="url(#bl2)"/>
<rect x="1898.4" y="118.05" width="48.6" height="11.5" rx="3.5" fill="url(#g4)" opacity="1" filter="url(#bl2)"/>
<rect x="1505.6" y="167.5" width="213.4" height="57.5" fill="url(#fltL)"/>
<rect x="1505.6" y="167.5" width="213.4" height="57.5" fill="#000" opacity="0.09" filter="url(#noise1)"/>
<rect x="1505.6" y="167.5" width="213.4" height="16" fill="url(#fadeW)"/>
<rect x="1507.8" y="184.2" width="47.7" height="8" rx="4" fill="url(#g5)" opacity="1" filter="url(#bl2)"/>
<rect x="1564.5" y="183.55" width="44.8" height="8.5" rx="4.25" fill="#060606" opacity="1" filter="url(#bl2)"/>
<rect x="1621" y="184.4" width="46" height="8" rx="4" fill="#8e8e8e" opacity="1" filter="url(#bl2)"/>
<rect x="1678.8" y="185.2" width="39.8" height="8" rx="4" fill="#b9b9b9" opacity="1" filter="url(#bl2)"/>
<rect x="1733" y="164.5" width="214.7" height="61.1" fill="url(#fltR)"/>
<path d="M1739.9 190.4 C1746.15 193.33 1770.95 193.33 1777.2 190.4" fill="none" stroke="#050505" stroke-width="7" stroke-linecap="round" opacity="1" filter="url(#blS)"/>
<path d="M1795.4 190.1 C1801.51 193.03 1825.99 193.03 1832.1 190.1" fill="none" stroke="#050505" stroke-width="7" stroke-linecap="round" opacity="1" filter="url(#blS)"/>
<path d="M1850.3 190.1 C1855.82 193.03 1878.78 193.03 1884.3 190.1" fill="none" stroke="#050505" stroke-width="7" stroke-linecap="round" opacity="1" filter="url(#blS)"/>
<path d="M1904.5 190.8 C1910.59 194.27 1936.01 194.27 1942.1 190.8" fill="none" stroke="#030303" stroke-width="7.8" stroke-linecap="round" opacity="1" filter="url(#blS)"/>
<circle cx="1742" cy="203" r="0.9" fill="#666"/>
<circle cx="1759" cy="217.5" r="1" fill="#666"/>
<circle cx="1759.6" cy="224" r="0.9" fill="#666"/>
<circle cx="1930" cy="224" r="0.8" fill="#666"/>
<circle cx="1765" cy="180.5" r="0.6" fill="#666"/>
<circle cx="1813.5" cy="178.5" r="0.6" fill="#666"/>
<rect x="1501.2" y="236.2" width="216.3" height="58.8" fill="url(#actL)"/>
<rect x="1501.2" y="236.2" width="216.3" height="58.8" fill="#000" opacity="0.06" filter="url(#noise1)"/>
<rect x="1501.7" y="254.2" width="46" height="12" rx="3" fill="#777" opacity="1" filter="url(#bl2)"/>
<rect x="1557.2" y="254.2" width="46.5" height="12" rx="3" fill="#797979" opacity="1" filter="url(#bl2)"/>
<rect x="1612.2" y="254.2" width="47.6" height="12" rx="3" fill="#727272" opacity="1" filter="url(#bl2)"/>
<rect x="1668.2" y="254.2" width="49.3" height="12" rx="3" fill="url(#g6)" opacity="1" filter="url(#bl2)"/>
<rect x="1733" y="236.7" width="215.9" height="60" fill="#d4d4d4"/>
<rect x="1733" y="236.7" width="215.9" height="60" fill="#000" opacity="0.09" filter="url(#noise2)"/>
<rect x="1834" y="237" width="12" height="59" fill="#e0e0e0" opacity="0.5" filter="url(#bl3)"/>
<rect x="1888" y="237" width="12" height="59" fill="#e0e0e0" opacity="0.5" filter="url(#bl3)"/>
<rect x="1733" y="236.7" width="215.9" height="1.5" fill="#a8a8a8" opacity="0.6"/>
<rect x="1737" y="258.7" width="40.3" height="4.2" rx="1.5" fill="#444" opacity="1" filter="url(#bl1)"/>
<rect x="1794.1" y="258.7" width="36.5" height="4.2" rx="1.5" fill="#444" opacity="1" filter="url(#bl1)"/>
<rect x="1849.1" y="258.7" width="34.7" height="4.2" rx="1.5" fill="#444" opacity="1" filter="url(#bl1)"/>
<rect x="1902.9" y="258.7" width="43.7" height="4.2" rx="1.5" fill="#444" opacity="1" filter="url(#bl1)"/>
<text x="1386.7" y="24.6" font-family="'Liberation Sans', Arial, sans-serif" font-size="30" font-weight="bold" text-anchor="start" fill="#000">D</text>
<text x="1424" y="48.3" font-family="'Liberation Serif', 'Times New Roman', serif" font-size="15" font-weight="normal" text-anchor="start" fill="#000" textLength="68.5" lengthAdjust="spacingAndGlyphs" stroke="#000" stroke-width="0.35">Plumbagin</text>
<text x="1459" y="77.8" font-family="'Liberation Serif', 'Times New Roman', serif" font-size="15.5" font-weight="normal" text-anchor="start" fill="#000" textLength="34.5" lengthAdjust="spacingAndGlyphs" stroke="#000" stroke-width="0.35">IL-35</text>
<text x="1535" y="47.6" font-family="'Liberation Serif', 'Times New Roman', serif" font-size="13" font-weight="bold" text-anchor="middle" fill="#000">-</text>
<text x="1535" y="78" font-family="'Liberation Serif', 'Times New Roman', serif" font-size="16" font-weight="normal" text-anchor="middle" fill="#000" stroke="#000" stroke-width="0.35">0</text>
<text x="1593.8" y="47.6" font-family="'Liberation Serif', 'Times New Roman', serif" font-size="13" font-weight="bold" text-anchor="middle" fill="#000">-</text>
<text x="1593.8" y="78" font-family="'Liberation Serif', 'Times New Roman', serif" font-size="16" font-weight="normal" text-anchor="middle" fill="#000" stroke="#000" stroke-width="0.35">25</text>
<text x="1645.8" y="47.6" font-family="'Liberation Serif', 'Times New Roman', serif" font-size="13" font-weight="bold" text-anchor="middle" fill="#000">-</text>
<text x="1645.8" y="78" font-family="'Liberation Serif', 'Times New Roman', serif" font-size="16" font-weight="normal" text-anchor="middle" fill="#000" stroke="#000" stroke-width="0.35">50</text>
<text x="1695" y="47.6" font-family="'Liberation Serif', 'Times New Roman', serif" font-size="13" font-weight="bold" text-anchor="middle" fill="#000">-</text>
<text x="1695" y="78" font-family="'Liberation Serif', 'Times New Roman', serif" font-size="16" font-weight="normal" text-anchor="middle" fill="#000" stroke="#000" stroke-width="0.35">100</text>
<text x="1757.6" y="47.5" font-family="'Liberation Serif', 'Times New Roman', serif" font-size="15" font-weight="normal" text-anchor="middle" fill="#000" stroke="#000" stroke-width="0.35">+</text>
<text x="1757.6" y="78" font-family="'Liberation Serif', 'Times New Roman', serif" font-size="16" font-weight="normal" text-anchor="middle" fill="#000" stroke="#000" stroke-width="0.35">0</text>
<text x="1814.3" y="47.5" font-family="'Liberation Serif', 'Times New Roman', serif" font-size="15" font-weight="normal" text-anchor="middle" fill="#000" stroke="#000" stroke-width="0.35">+</text>
<text x="1814.3" y="78" font-family="'Liberation Serif', 'Times New Roman', serif" font-size="16" font-weight="normal" text-anchor="middle" fill="#000" stroke="#000" stroke-width="0.35">25</text>
<text x="1867" y="47.5" font-family="'Liberation Serif', 'Times New Roman', serif" font-size="15" font-weight="normal" text-anchor="middle" fill="#000" stroke="#000" stroke-width="0.35">+</text>
<text x="1867" y="78" font-family="'Liberation Serif', 'Times New Roman', serif" font-size="16" font-weight="normal" text-anchor="middle" fill="#000" stroke="#000" stroke-width="0.35">50</text>
<text x="1924.5" y="47.5" font-family="'Liberation Serif', 'Times New Roman', serif" font-size="15" font-weight="normal" text-anchor="middle" fill="#000" stroke="#000" stroke-width="0.35">+</text>
<text x="1924.5" y="78" font-family="'Liberation Serif', 'Times New Roman', serif" font-size="16" font-weight="normal" text-anchor="middle" fill="#000" stroke="#000" stroke-width="0.35">100</text>
<text x="1456.5" y="128.2" font-family="'Liberation Serif', 'Times New Roman', serif" font-size="15.5" font-weight="normal" text-anchor="start" fill="#000" textLength="40.5" lengthAdjust="spacingAndGlyphs" stroke="#000" stroke-width="0.35">VEGF</text>
<text x="1465.8" y="195" font-family="'Liberation Serif', 'Times New Roman', serif" font-size="15.5" font-weight="normal" text-anchor="start" fill="#000" textLength="29.8" lengthAdjust="spacingAndGlyphs" stroke="#000" stroke-width="0.35">Flt-1</text>
<text x="1450.6" y="262.3" font-family="'Liberation Serif', 'Times New Roman', serif" font-size="15.5" font-weight="normal" text-anchor="start" fill="#000" textLength="44.3" lengthAdjust="spacingAndGlyphs" stroke="#000" stroke-width="0.35">β-actin</text>
<text x="1953.2" y="126.6" font-family="'Liberation Serif', 'Times New Roman', serif" font-size="15.5" font-weight="normal" text-anchor="start" fill="#000" textLength="41.5" lengthAdjust="spacingAndGlyphs" stroke="#000" stroke-width="0.35">23kDa</text>
<text x="1954.8" y="195.5" font-family="'Liberation Serif', 'Times New Roman', serif" font-size="15.5" font-weight="normal" text-anchor="start" fill="#000" textLength="48.5" lengthAdjust="spacingAndGlyphs" stroke="#000" stroke-width="0.35">151kDa</text>
<text x="1952.5" y="267.5" font-family="'Liberation Serif', 'Times New Roman', serif" font-size="15.5" font-weight="normal" text-anchor="start" fill="#000" textLength="42" lengthAdjust="spacingAndGlyphs" stroke="#000" stroke-width="0.35">42kDa</text>
</g>
</svg>
</body></html>
